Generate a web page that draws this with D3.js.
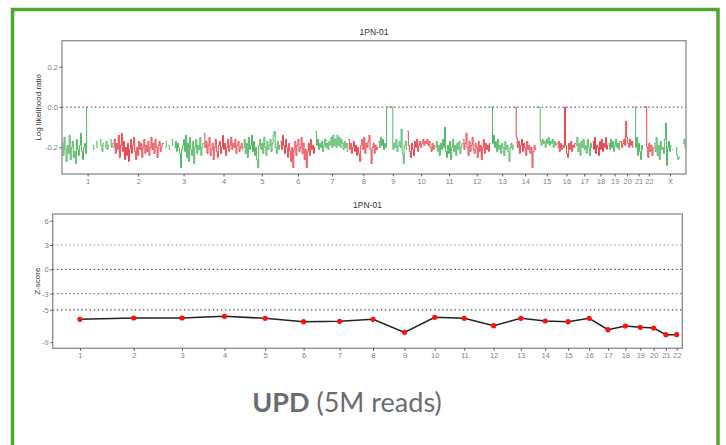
<!DOCTYPE html>
<html>
<head>
<meta charset="utf-8">
<script src="https://cdn.jsdelivr.net/npm/d3@7"></script>
<style>
  body { margin: 0; background: #fff; }
  svg { display: block; }
</style>
</head>
<body>
<div id="chart"></div>
<script>
// chromosome names and lengths (Mb, hg19)
var chromNames = ["1","2","3","4","5","6","7","8","9","10","11","12","13","14","15","16","17","18","19","20","21","22","X"];
var chromLengths = [249.25,243.2,198.02,191.15,180.92,171.12,159.14,146.36,141.21,135.53,135.01,133.85,115.17,107.35,102.53,90.35,81.2,78.08,59.13,63.03,48.13,51.3,155.27];

// log likelihood ratio per chromosome, in equal bins along each chromosome (null = no data)
var llr1  = [-0.18,-0.24,-0.15,-0.21,-0.27,-0.19,-0.23,-0.14,-0.26,-0.2,-0.17,-0.25,-0.22,-0.28,-0.16,-0.21,-0.24,-0.19,-0.13,-0.22,-0.26,-0.2,-0.18,-0.23,0,null,null,null,null,null,-0.19,-0.21,null,-0.17,-0.2,null,null,-0.16,-0.19,-0.22,-0.18,null,-0.2,-0.17,-0.21,-0.19,null,-0.16,-0.2,-0.18];
var llr2  = [-0.2,-0.16,-0.23,-0.18,-0.21,-0.14,-0.25,-0.19,-0.13,-0.22,-0.17,-0.26,-0.2,-0.24,-0.18,-0.27,-0.21,-0.16,-0.23,-0.19,-0.15,-0.22,-0.26,-0.2,-0.24,-0.17,-0.21,-0.18,-0.25,-0.2,-0.16,-0.23,-0.19,-0.22,-0.17,-0.24,-0.2,-0.15,-0.21,-0.18,-0.23,-0.16,-0.2,-0.25,-0.19,-0.17,-0.22,-0.2,-0.18];
var llr3  = [-0.18,null,-0.2,-0.17,null,-0.19,-0.21,null,-0.16,-0.19,null,-0.2,-0.17,-0.22,-0.18,-0.2,-0.23,-0.3,-0.21,-0.19,-0.16,-0.22,-0.14,-0.25,-0.18,-0.27,-0.15,-0.21,-0.24,-0.17,-0.28,-0.2,-0.16,-0.23,-0.19,-0.21,-0.15,-0.24,-0.2,-0.18];
var llr4  = [-0.13,-0.2,-0.17,-0.23,-0.19,-0.15,-0.24,-0.21,-0.18,-0.26,-0.2,-0.16,-0.22,-0.25,-0.19,-0.17,-0.23,-0.2,-0.14,-0.21,-0.18,-0.24,-0.2,-0.16,-0.22,-0.19,-0.15,-0.21,-0.18,-0.2,-0.16,-0.23,-0.19,-0.17,-0.22,-0.2,-0.18,-0.21];
var llr5  = [-0.2,-0.16,-0.23,-0.18,-0.25,-0.15,-0.21,-0.19,-0.14,-0.22,-0.17,-0.24,-0.2,-0.26,-0.3,-0.19,-0.16,-0.21,-0.18,-0.23,-0.15,-0.2,-0.24,-0.17,-0.21,-0.19,-0.16,-0.22,-0.18,-0.14,-0.12,-0.2,-0.23,-0.17,-0.21,-0.19];
var llr6  = [-0.17,-0.21,-0.14,-0.19,-0.23,-0.16,-0.2,-0.25,-0.18,-0.22,-0.27,-0.2,-0.3,-0.21,-0.17,-0.24,-0.19,-0.16,-0.22,-0.2,-0.15,-0.23,-0.18,-0.26,-0.21,-0.3,-0.22,-0.18,-0.24,-0.16,-0.21,-0.19,-0.23,-0.2];
var llr7  = [-0.12,-0.19,-0.16,-0.21,-0.18,-0.2,-0.17,-0.22,-0.19,-0.16,-0.2,-0.18,-0.21,-0.17,-0.19,-0.15,-0.2,-0.14,-0.19,-0.16,-0.2,-0.14,-0.19,-0.15,-0.2,-0.16,-0.18,-0.21,-0.17,-0.2,-0.18,-0.22];
var llr8  = [-0.16,-0.21,-0.18,-0.23,-0.2,-0.17,-0.22,-0.19,-0.24,-0.2,-0.23,-0.27,-0.19,-0.16,-0.21,-0.15,-0.23,-0.18,-0.2,-0.17,-0.14,-0.21,-0.28,-0.2,-0.18,-0.23,-0.19,-0.21,-0.2];
var llr9  = [-0.17,-0.2,-0.15,-0.19,-0.16,-0.21,-0.18,-0.2,0,0,0,0,0,0,-0.21,-0.18,-0.2,-0.16,-0.22,-0.19,-0.17,-0.2,-0.11,-0.23,-0.28,-0.19,-0.17,-0.21];
var llr10 = [-0.12,-0.19,-0.22,-0.25,-0.18,-0.21,-0.24,-0.17,-0.2,-0.16,-0.22,-0.19,-0.17,-0.2,-0.18,-0.16,-0.19,-0.17,-0.18,-0.16,-0.19,-0.17,-0.2,-0.22,-0.18,-0.21,-0.19];
var llr11 = [-0.2,-0.17,-0.22,-0.19,-0.24,-0.18,-0.21,-0.16,-0.2,-0.1,-0.22,-0.25,-0.19,-0.23,-0.17,-0.26,-0.2,-0.16,-0.22,-0.19,-0.24,-0.18,-0.21,-0.17,-0.23,-0.2,-0.18];
var llr12 = [-0.16,-0.21,-0.18,-0.13,-0.2,-0.24,-0.17,-0.22,-0.19,-0.15,-0.21,-0.23,-0.18,-0.2,-0.25,-0.17,-0.22,-0.19,-0.26,-0.2,-0.16,-0.23,-0.18,-0.21,-0.19,-0.22,-0.18];
var llr13 = [0,0,-0.18,-0.14,-0.2,-0.17,-0.22,-0.16,-0.21,-0.19,-0.23,-0.18,-0.2,-0.24,-0.17,-0.21,-0.19,-0.22,-0.27,-0.2,-0.18,-0.21,-0.19];
var llr14 = [0,0,-0.15,-0.2,-0.17,-0.23,-0.19,-0.16,-0.22,-0.18,-0.2,-0.24,-0.17,-0.21,-0.19,-0.23,-0.2,-0.3,-0.22,-0.19,-0.21];
var llr15 = [0,0,0,0,-0.17,-0.19,-0.16,-0.18,-0.17,-0.2,-0.16,-0.18,-0.15,-0.19,-0.17,-0.18,-0.16,-0.2,-0.17,-0.19,-0.18];
var llr16 = [-0.2,-0.17,-0.22,-0.18,-0.21,-0.19,-0.2,0,-0.19,-0.23,-0.25,-0.18,-0.21,-0.17,-0.22,-0.19,-0.2,-0.18];
var llr17 = [-0.19,-0.15,-0.22,-0.18,-0.24,-0.17,-0.2,-0.16,-0.21,-0.19,-0.23,-0.16,-0.2,-0.24,-0.18,-0.2];
var llr18 = [-0.17,-0.21,-0.15,-0.23,-0.19,-0.2,-0.24,-0.17,-0.21,-0.16,-0.22,-0.18,-0.2,-0.15,-0.21,-0.19];
var llr19 = [-0.18,-0.21,-0.16,-0.2,-0.17,-0.22,-0.19,-0.16,-0.2,-0.18,-0.21,-0.17];
var llr20 = [-0.17,-0.2,-0.18,-0.16,-0.19,-0.07,-0.15,-0.18,-0.2,-0.16,-0.19,-0.17,-0.2];
var llr21 = [0,0,-0.2,-0.15,-0.24,-0.18,-0.22,-0.26,-0.19,-0.21];
var llr22 = [0,0,0,-0.2,-0.25,-0.18,-0.22,-0.19,-0.24,-0.2];
var llrX  = [-0.18,-0.22,-0.15,-0.24,-0.19,-0.26,-0.17,-0.21,-0.2,-0.23,-0.16,-0.08,-0.29,-0.2,-0.17,-0.22,-0.19,null,-0.21,null,null,-0.2,-0.24,-0.26,-0.25,null,null,null,-0.18,-0.16,-0.2];
var llrByChrom = [llr1,llr2,llr3,llr4,llr5,llr6,llr7,llr8,llr9,llr10,llr11,llr12,llr13,llr14,llr15,llr16,llr17,llr18,llr19,llr20,llr21,llr22,llrX];

// Z-score per autosome
var zScores = [-6.17,-6.01,-6.01,-5.8,-6.05,-6.46,-6.42,-6.17,-7.78,-5.93,-6.05,-6.96,-6.05,-6.38,-6.46,-6.05,-7.45,-7.0,-7.16,-7.25,-8.07,-8.07];

var topYTicks = [0.2, 0, -0.2];
var botYTicks = [6, 3, 0, -3, -5, -9];
var botGrid = [3, 0, -3, -5];
var panelTitle = "1PN-01";

var W = 726, H = 445;
var green = "#3fae55", red = "#e4323c";
var tickColor = "#7f7f7f";

var svg = d3.select("#chart").append("svg")
  .attr("width", W)
  .attr("height", H);

// outer green frame
svg.append("rect")
  .attr("x", 12.5).attr("y", 9.5)
  .attr("width", 705.5).attr("height", 470)
  .attr("fill", "none")
  .attr("stroke", "#52a733")
  .attr("stroke-width", 3.5);

// cumulative chromosome starts
var starts = [], acc = 0;
chromLengths.forEach(function(l){ starts.push(acc); acc += l; });
var genomeAll = acc;
var genomeAuto = starts[22];
var centers = chromLengths.map(function(l, i){ return starts[i] + l/2; });

function styleAxis(ax){
  ax.select(".domain").remove();
  ax.selectAll("line").attr("stroke", "#333").attr("stroke-width", 0.8);
  ax.selectAll("text")
    .attr("fill", tickColor)
    .style("font-family", "Liberation Sans, Arial, sans-serif")
    .style("font-size", "7.5px");
}

//////////// top panel: log likelihood ratio ////////////
var tp = {l: 62, r: 686, t: 40.7, b: 174};
var xTop = d3.scaleLinear().domain([0, genomeAll]).range([tp.l, tp.r]);
var yTop = d3.scaleLinear().domain([-0.332, 0.329]).range([tp.b, tp.t]);

var gTop = svg.append("g");

gTop.append("line")
  .attr("x1", tp.l).attr("x2", tp.r)
  .attr("y1", yTop(0)).attr("y2", yTop(0))
  .attr("stroke", "#666")
  .attr("stroke-width", 1.3)
  .attr("stroke-dasharray", "1.5,2.6");

var llrLine = d3.line()
  .defined(function(d){ return d.v !== null; })
  .x(function(d){ return xTop(d.x); })
  .y(function(d){ return yTop(d.v); });

llrByChrom.forEach(function(vals, c){
  var step = chromLengths[c] / vals.length;
  var pts = [];
  vals.forEach(function(v, i){
    var a = starts[c] + i*step;
    pts.push({x: a, v: v});
    pts.push({x: a + step, v: v});
  });
  gTop.append("path")
    .datum(pts)
    .attr("d", llrLine)
    .attr("fill", "none")
    .attr("stroke", c % 2 === 0 ? green : red)
    .attr("stroke-width", 0.9);
});

gTop.append("rect")
  .attr("x", tp.l).attr("y", tp.t)
  .attr("width", tp.r - tp.l).attr("height", tp.b - tp.t)
  .attr("fill", "none")
  .attr("stroke", "#8a8a8a")
  .attr("stroke-width", 1.3);

gTop.append("g")
  .attr("transform", "translate(" + tp.l + ",0)")
  .call(d3.axisLeft(yTop).tickValues(topYTicks).tickSize(2.5).tickPadding(1.5)
    .tickFormat(function(d){ return d.toFixed(1); }))
  .call(styleAxis);

gTop.append("g")
  .attr("transform", "translate(0," + tp.b + ")")
  .call(d3.axisBottom(xTop).tickValues(centers).tickSize(2.5).tickPadding(2)
    .tickFormat(function(d, i){ return chromNames[i]; }))
  .call(styleAxis);

gTop.append("text")
  .attr("x", (tp.l + tp.r)/2).attr("y", 34.5)
  .attr("text-anchor", "middle")
  .attr("fill", "#333")
  .style("font-family", "Liberation Sans, Arial, sans-serif")
  .style("font-size", "8.5px")
  .text(panelTitle);

gTop.append("text")
  .attr("transform", "translate(41," + ((tp.t + tp.b)/2) + ") rotate(-90)")
  .attr("text-anchor", "middle")
  .attr("fill", "#333")
  .style("font-family", "Liberation Sans Narrow, Liberation Sans, Arial, sans-serif")
  .style("font-size", "8px")
  .text("Log likelihood ratio");

//////////// bottom panel: Z-score ////////////
var bp = {l: 52.7, r: 682.3, t: 214, b: 348.3};
var xBot = d3.scaleLinear().domain([0, genomeAuto]).range([bp.l, bp.r]);
var yBot = d3.scaleLinear().domain([-9.75, 6.83]).range([bp.b, bp.t]);
var gridColor = {"3": "#9a9a9a", "0": "#555", "-3": "#777", "-5": "#555"};

var gBot = svg.append("g");

gBot.selectAll(".grid")
  .data(botGrid)
  .enter()
  .append("line")
  .attr("class", "grid")
  .attr("x1", bp.l).attr("x2", bp.r)
  .attr("y1", function(d){ return yBot(d); })
  .attr("y2", function(d){ return yBot(d); })
  .attr("stroke", function(d){ return gridColor[String(d)]; })
  .attr("stroke-width", 1.2)
  .attr("stroke-dasharray", "1.5,2.6");

var zData = zScores.map(function(z, i){ return {x: centers[i], z: z}; });

gBot.append("path")
  .datum(zData)
  .attr("d", d3.line().x(function(d){ return xBot(d.x); }).y(function(d){ return yBot(d.z); }))
  .attr("fill", "none")
  .attr("stroke", "#222")
  .attr("stroke-width", 1.5);

gBot.selectAll(".pt")
  .data(zData)
  .enter()
  .append("circle")
  .attr("class", "pt")
  .attr("cx", function(d){ return xBot(d.x); })
  .attr("cy", function(d){ return yBot(d.z); })
  .attr("r", 2.6)
  .attr("fill", "#ff1010");

gBot.append("rect")
  .attr("x", bp.l).attr("y", bp.t)
  .attr("width", bp.r - bp.l).attr("height", bp.b - bp.t)
  .attr("fill", "none")
  .attr("stroke", "#8a8a8a")
  .attr("stroke-width", 1.3);

gBot.append("g")
  .attr("transform", "translate(" + bp.l + ",0)")
  .call(d3.axisLeft(yBot).tickValues(botYTicks).tickSize(2.5).tickPadding(1.5)
    .tickFormat(function(d){ return String(d); }))
  .call(styleAxis);

gBot.append("g")
  .attr("transform", "translate(0," + bp.b + ")")
  .call(d3.axisBottom(xBot).tickValues(centers.slice(0, 22)).tickSize(2.5).tickPadding(2)
    .tickFormat(function(d, i){ return chromNames[i]; }))
  .call(styleAxis);

gBot.append("text")
  .attr("x", (bp.l + bp.r)/2).attr("y", 208)
  .attr("text-anchor", "middle")
  .attr("fill", "#333")
  .style("font-family", "Liberation Sans, Arial, sans-serif")
  .style("font-size", "8.5px")
  .text(panelTitle);

gBot.append("text")
  .attr("transform", "translate(39.5," + ((bp.t + bp.b)/2) + ") rotate(-90)")
  .attr("text-anchor", "middle")
  .attr("fill", "#333")
  .style("font-family", "Liberation Sans Narrow, Liberation Sans, Arial, sans-serif")
  .style("font-size", "8px")
  .text("Z-score");

//////////// caption ////////////
var cap = svg.append("text")
  .attr("x", 347).attr("y", 412)
  .attr("text-anchor", "middle")
  .attr("fill", "#6b6c6f")
  .style("font-family", "Lato, 'Open Sans', sans-serif")
  .style("font-size", "27px");
cap.append("tspan").style("font-weight", 700).text("UPD");
cap.append("tspan").style("font-weight", 400).text(" (5M reads)");
</script>
</body>
</html>
